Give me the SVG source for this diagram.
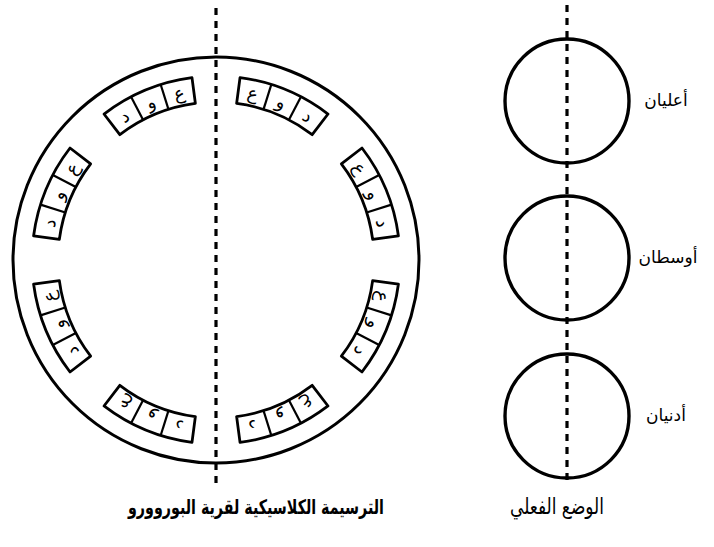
<svg xmlns="http://www.w3.org/2000/svg" width="714" height="547" viewBox="0 0 714 547">
<style>
.ring{fill:none;stroke:#000;stroke-width:3}
.ring2{fill:none;stroke:#000;stroke-width:3.4}
.hut{fill:#fff;stroke:#000;stroke-width:2.8;stroke-linejoin:round}
.div{stroke:#000;stroke-width:2.2}
.dash{fill:none;stroke:#000;stroke-width:3.2;stroke-dasharray:7 6;stroke-linecap:butt}
.let{font-family:"DejaVu Sans",sans-serif;font-size:18px;text-anchor:middle;dominant-baseline:central}
.lab{font-family:"DejaVu Sans",sans-serif;font-size:17px;text-anchor:middle}
.cap{font-family:"DejaVu Sans",sans-serif;font-size:20px;font-weight:bold;text-anchor:middle}
.cap2{font-family:"DejaVu Sans",sans-serif;font-size:22px;text-anchor:middle}
</style>
<defs>
<g id="hutshape">
<path class="hut" d="M-47.62,-177.73 A184,184 0 0 1 47.62,-177.73 L40.89,-152.62 A158,158 0 0 0 -40.89,-152.62 Z"/>
<line class="div" x1="-16.04" y1="-183.3" x2="-13.77" y2="-157.4"/>
<line class="div" x1="16.04" y1="-183.3" x2="13.77" y2="-157.4"/>
</g>
</defs>
<rect width="714" height="547" fill="#fff"/>
<g id="village">
<circle class="ring" cx="216" cy="260" r="203"/>
</g>
<g id="hut-r1" transform="translate(216,260) rotate(22.5)">
<use href="#hutshape"/>
<text class="let" transform="rotate(-10)" y="-171">ع</text>
<text class="let" y="-171">و</text>
<text class="let" transform="rotate(10)" y="-171">د</text>
</g>
<g id="hut-r2" transform="translate(216,260) rotate(67.5)">
<use href="#hutshape"/>
<text class="let" transform="rotate(-10)" y="-171">ع</text>
<text class="let" y="-171">و</text>
<text class="let" transform="rotate(10)" y="-171">د</text>
</g>
<g id="hut-r3" transform="translate(216,260) rotate(112.5)">
<use href="#hutshape"/>
<text class="let" transform="rotate(-10)" y="-171">ع</text>
<text class="let" y="-171">و</text>
<text class="let" transform="rotate(10)" y="-171">د</text>
</g>
<g id="hut-r4" transform="translate(216,260) rotate(157.5)">
<use href="#hutshape"/>
<text class="let" transform="rotate(-10)" y="-171">ع</text>
<text class="let" y="-171">و</text>
<text class="let" transform="rotate(10)" y="-171">د</text>
</g>
<g id="hut-l1" transform="translate(216,260) rotate(-22.5)">
<use href="#hutshape"/>
<text class="let" transform="rotate(10)" y="-171">ع</text>
<text class="let" y="-171">و</text>
<text class="let" transform="rotate(-10)" y="-171">د</text>
</g>
<g id="hut-l2" transform="translate(216,260) rotate(-67.5)">
<use href="#hutshape"/>
<text class="let" transform="rotate(10)" y="-171">ع</text>
<text class="let" y="-171">و</text>
<text class="let" transform="rotate(-10)" y="-171">د</text>
</g>
<g id="hut-l3" transform="translate(216,260) rotate(-112.5)">
<use href="#hutshape"/>
<text class="let" transform="rotate(10)" y="-171">ع</text>
<text class="let" y="-171">و</text>
<text class="let" transform="rotate(-10)" y="-171">د</text>
</g>
<g id="hut-l4" transform="translate(216,260) rotate(-157.5)">
<use href="#hutshape"/>
<text class="let" transform="rotate(10)" y="-171">ع</text>
<text class="let" y="-171">و</text>
<text class="let" transform="rotate(-10)" y="-171">د</text>
</g>
<g id="circle-upper">
<circle class="ring2" cx="567" cy="101" r="62"/>
<text class="lab" x="666" y="106">أعليان</text>
</g>
<g id="circle-middle">
<circle class="ring2" cx="567" cy="258" r="62"/>
<text class="lab" x="668" y="263">أوسطان</text>
</g>
<g id="circle-lower">
<circle class="ring2" cx="567" cy="416" r="62"/>
<text class="lab" x="666" y="421">أدنيان</text>
</g>
<g id="connectors">
<line class="dash" x1="216" y1="8" x2="216" y2="485"/>
<line class="dash" x1="567" y1="5" x2="567" y2="485"/>
</g>
<text class="cap" x="256" y="514" textLength="256" lengthAdjust="spacingAndGlyphs">الترسيمة الكلاسيكية لقرية البوروورو</text>
<text class="cap2" x="557" y="514" textLength="94" lengthAdjust="spacingAndGlyphs">الوضع الفعلي</text>
</svg>
